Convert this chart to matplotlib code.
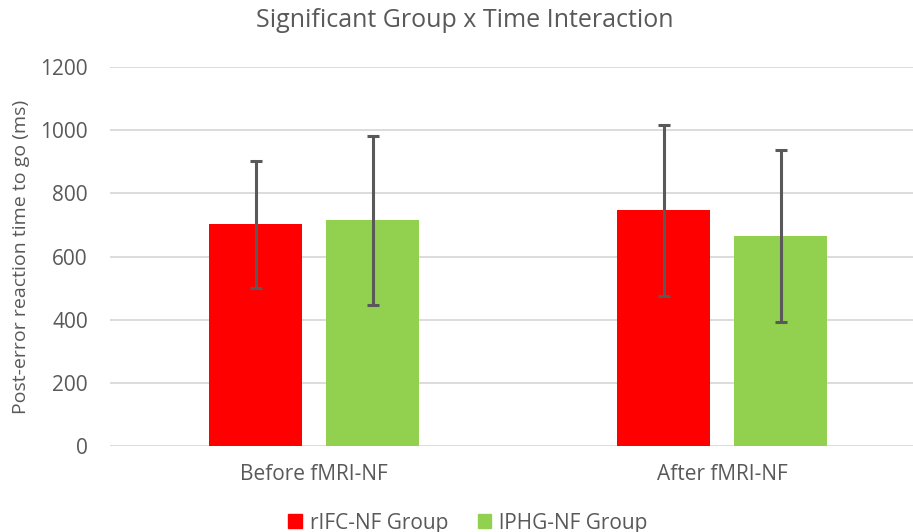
import numpy as np
import matplotlib.pyplot as plt
from matplotlib.patches import Patch

plt.rcParams['font.family'] = ['Open Sans', 'DejaVu Sans']

# data
categories = ['Before fMRI-NF', 'After fMRI-NF']
groups = ['rIFC-NF Group', 'lPHG-NF Group']
rifc_mean = [702, 746]
rifc_err = [201, 270]
lphg_mean = [714, 665]
lphg_err = [267, 271]
yticks = [0, 200, 400, 600, 800, 1000, 1200]

grey = '#595959'
colors = ['#ff0000', '#92d050']

fig = plt.figure(figsize=(9.13, 5.32), dpi=100)
ax = fig.add_axes([110 / 913, 1 - 446 / 532, (913 - 110) / 913, 379 / 532])

x = np.arange(len(categories))
w = 0.228
off = 0.1435
ax.bar(x - off, rifc_mean, w, color=colors[0], zorder=2)
ax.bar(x + off, lphg_mean, w, color=colors[1], zorder=2)
ax.errorbar(x - off, rifc_mean, yerr=rifc_err, fmt='none', ecolor=grey,
            elinewidth=2.2, capsize=4, capthick=2.2, zorder=3)
ax.errorbar(x + off, lphg_mean, yerr=lphg_err, fmt='none', ecolor=grey,
            elinewidth=2.2, capsize=4, capthick=2.2, zorder=3)

ax.set_xlim(-0.5, 1.467)
ax.set_ylim(0, 1200)
ax.set_yticks(yticks)
ax.set_xticks(x)
ax.set_xticklabels(categories)
ax.yaxis.grid(True, color='#d9d9d9', linewidth=1.3, zorder=0)
ax.set_axisbelow(True)
for s in ax.spines.values():
    s.set_visible(False)
ax.tick_params(axis='both', length=0, colors=grey, labelsize=15)
ax.tick_params(axis='y', pad=16)
ax.tick_params(axis='x', pad=13)

ax.set_ylabel('Post-error reaction time to go (ms)', color=grey, fontsize=14, labelpad=7)
fig.suptitle('Significant Group x Time Interaction', color=grey, fontsize=18,
             x=465 / 913, y=1 - 8 / 532, va='top')

handles = [Patch(color=c, label=g) for c, g in zip(colors, groups)]
fig.legend(handles=handles, loc='center', bbox_to_anchor=(468 / 913, 1 - 523 / 532),
           ncol=2, frameon=False, fontsize=15, labelcolor=grey,
           handlelength=0.65, handleheight=0.65, handletextpad=0.4, columnspacing=1.4)

fig.savefig('out.png', dpi=100)
